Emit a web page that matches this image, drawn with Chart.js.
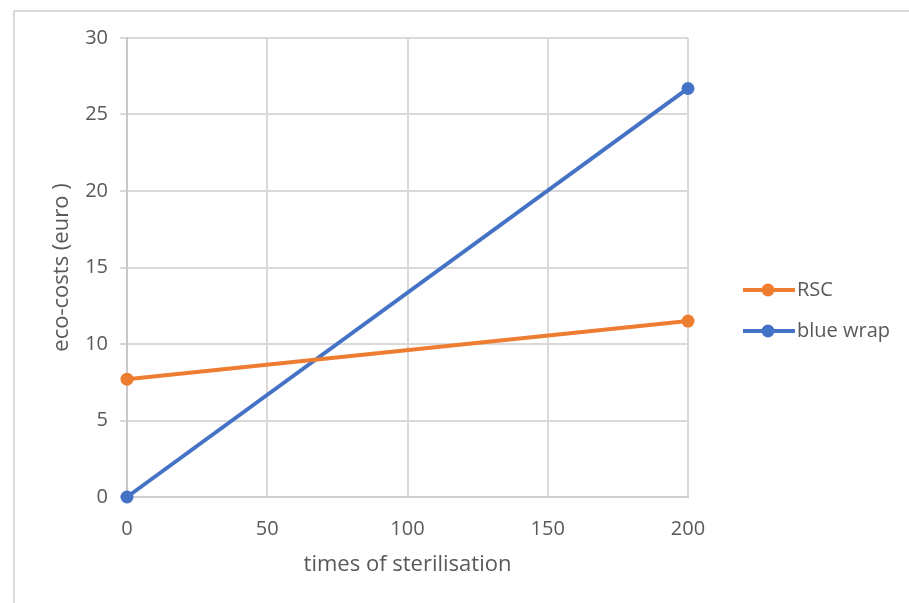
<!DOCTYPE html>
<html>
<head>
<meta charset="utf-8">
<script src="https://cdn.jsdelivr.net/npm/chart.js@4.4.1/dist/chart.umd.min.js"></script>
<style>
  html, body { margin: 0; padding: 0; background: #fff; overflow: hidden; }
  #frame { position: absolute; left: 13px; top: 10px; width: 1000px; height: 700px; border: 2px solid #d9d9d9; }
  #wrap { position: absolute; left: 0; top: 0; width: 909px; height: 603px; }
</style>
</head>
<body>
<div id="frame"></div>
<div id="wrap"><canvas id="ecoChart" width="909" height="603"></canvas></div>
<script>
let sterilisations = [0, 200];
let rscValues = [7.7, 11.5];
let blueWrapValues = [0, 26.7];
let seriesNames = ["RSC", "blue wrap"];
let seriesColors = ['#ED7D31', '#4472C4'];

const textColor = '#595959';
const fontFamily = "'Open Sans', 'Noto Sans', sans-serif";

function toPoints(values) {
  return sterilisations.map((x, i) => ({ x: x, y: values[i] }));
}

// legend drawn as line + dot, like the spreadsheet one
const sideLegend = {
  id: 'sideLegend',
  afterDraw(chart) {
    const ctx = chart.ctx;
    const area = chart.chartArea;
    const x0 = area.right + 55;
    let y = 290;
    chart.data.datasets.forEach(ds => {
      ctx.save();
      ctx.strokeStyle = ds.borderColor;
      ctx.lineWidth = 4;
      ctx.beginPath();
      ctx.moveTo(x0, y);
      ctx.lineTo(x0 + 52, y);
      ctx.stroke();
      ctx.fillStyle = ds.borderColor;
      ctx.beginPath();
      ctx.arc(x0 + 25, y, 6.5, 0, Math.PI * 2);
      ctx.fill();
      ctx.fillStyle = textColor;
      ctx.font = "20px " + fontFamily;
      ctx.textBaseline = 'middle';
      ctx.fillText(ds.label, x0 + 54, y);
      ctx.restore();
      y += 41;
    });
  }
};

new Chart("ecoChart", {
  type: 'line',
  data: {
    datasets: [{
      label: seriesNames[0],
      data: toPoints(rscValues),
      borderColor: seriesColors[0],
      backgroundColor: seriesColors[0],
      borderWidth: 4,
      pointRadius: 6.5,
      pointBorderWidth: 0,
      tension: 0
    }, {
      label: seriesNames[1],
      data: toPoints(blueWrapValues),
      borderColor: seriesColors[1],
      backgroundColor: seriesColors[1],
      borderWidth: 4,
      pointRadius: 6.5,
      pointBorderWidth: 0,
      tension: 0
    }]
  },
  options: {
    responsive: false,
    animation: false,
    clip: false,
    layout: { padding: { left: 45, top: 38, right: 221, bottom: 21 } },
    plugins: {
      legend: { display: false },
      tooltip: { enabled: false }
    },
    scales: {
      x: {
        type: 'linear',
        min: 0,
        max: 200,
        ticks: { stepSize: 50, color: textColor, padding: 20, font: { size: 20, family: fontFamily } },
        grid: { color: '#d9d9d9', lineWidth: 2, drawTicks: false },
        border: { color: '#d0d0d0', width: 2 },
        title: { display: true, text: 'times of sterilisation', color: textColor, padding: { top: 4, bottom: 4 }, font: { size: 22, family: fontFamily } },
        afterFit(scale) { scale.height = 85; }
      },
      y: {
        min: 0,
        max: 30,
        ticks: { stepSize: 5, color: textColor, padding: 12, font: { size: 20, family: fontFamily } },
        grid: { color: '#d9d9d9', lineWidth: 2, tickLength: 7 },
        border: { color: '#c8c8c8', width: 2 },
        title: { display: true, text: 'eco-costs (euro )', color: textColor, padding: { top: 4, bottom: 4 }, font: { size: 22, family: fontFamily } },
        afterFit(scale) { scale.width = 82; }
      }
    }
  },
  plugins: [sideLegend]
});
</script>
</body>
</html>
